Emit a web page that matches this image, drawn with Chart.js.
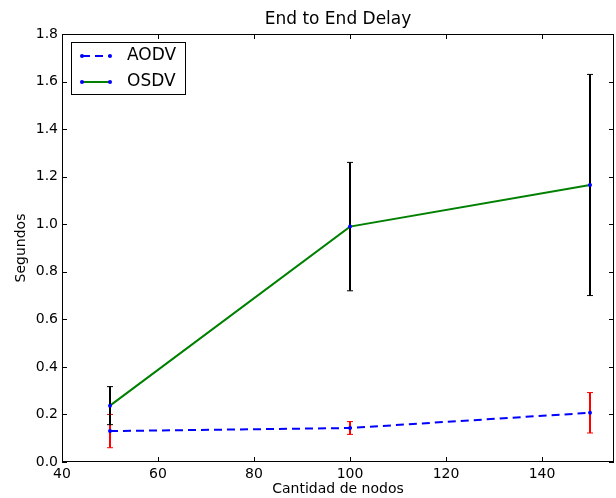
<!DOCTYPE html>
<html><head><meta charset="utf-8">
<script src="https://cdn.jsdelivr.net/npm/chart.js@4"></script>
<style>html,body{margin:0;padding:0;background:#fff;} #wrap{width:616px;height:498px;}</style>
</head><body><div id="wrap"><canvas id="c" width="616" height="498"></canvas></div>
<script>
const nodes = [50, 100, 150];
const seriesNames = ['AODV', 'OSDV'];
const aodv = [0.130, 0.143, 0.207];
const aodvErr = [0.070, 0.027, 0.085];
const osdv = [0.237, 0.990, 1.165];
const osdvErr = [0.080, 0.270, 0.465];
const xTickValues = [40, 60, 80, 100, 120, 140];
const yTickValues = [0.0, 0.2, 0.4, 0.6, 0.8, 1.0, 1.2, 1.4, 1.6, 1.8];

const FONT = '"DejaVu Sans", sans-serif';

const errorBars = {
  id: 'errorBars',
  beforeDatasetsDraw(chart) {
    const {ctx, scales: {x, y}} = chart;
    chart.data.datasets.forEach(ds => {
      if (!ds.errors) return;
      ctx.save();
      ctx.strokeStyle = ds.errorColor;
      ds.data.forEach((p, i) => {
        const px = x.getPixelForValue(p.x);
        const top = y.getPixelForValue(p.y + ds.errors[i]);
        const bot = y.getPixelForValue(p.y - ds.errors[i]);
        ctx.lineWidth = 2;
        ctx.beginPath(); ctx.moveTo(px, top); ctx.lineTo(px, bot); ctx.stroke();
        ctx.lineWidth = 1;
        ctx.beginPath();
        ctx.moveTo(px - 3, top); ctx.lineTo(px + 3, top);
        ctx.moveTo(px - 3, bot); ctx.lineTo(px + 3, bot);
        ctx.stroke();
      });
      ctx.restore();
    });
  }
};

const frameAndLegend = {
  id: 'frameAndLegend',
  afterDraw(chart) {
    const {ctx, chartArea: a, scales: {x, y}} = chart;
    ctx.save();
    ctx.strokeStyle = '#000';
    ctx.lineWidth = 1;
    // inward ticks on all sides
    ctx.beginPath();
    xTickValues.forEach(v => {
      const px = Math.round(x.getPixelForValue(v)) + 0.5;
      ctx.moveTo(px, a.bottom); ctx.lineTo(px, a.bottom - 5);
      ctx.moveTo(px, a.top); ctx.lineTo(px, a.top + 5);
    });
    yTickValues.forEach(v => {
      const py = Math.round(y.getPixelForValue(v)) + 0.5;
      ctx.moveTo(a.left, py); ctx.lineTo(a.left + 5, py);
      ctx.moveTo(a.right, py); ctx.lineTo(a.right - 5, py);
    });
    ctx.stroke();
    // frame
    ctx.strokeRect(Math.round(a.left) + 0.5, Math.round(a.top) + 0.5,
      Math.round(a.right - a.left) - 1, Math.round(a.bottom - a.top) - 1);
    // legend
    const lx = a.left + 9, ly = a.top + 8, lw = 114, lh = 52;
    ctx.fillStyle = '#fff';
    ctx.fillRect(lx, ly, lw, lh);
    ctx.strokeRect(lx + 0.5, ly + 0.5, lw, lh);
    chart.data.datasets.forEach((ds, i) => {
      const ry = ly + 14 + i * 26;
      const x0 = lx + 11, x1 = lx + 39;
      ctx.save();
      ctx.strokeStyle = ds.borderColor;
      ctx.lineWidth = ds.borderWidth;
      ctx.setLineDash(ds.borderDash || []);
      ctx.beginPath(); ctx.moveTo(x0, ry); ctx.lineTo(x1, ry); ctx.stroke();
      ctx.restore();
      ctx.fillStyle = ds.pointBackgroundColor;
      [x0, x1].forEach(px => { ctx.beginPath(); ctx.arc(px, ry, 2, 0, Math.PI * 2); ctx.fill(); });
      ctx.fillStyle = '#000';
      ctx.font = '17px ' + FONT;
      ctx.textBaseline = 'middle';
      ctx.textAlign = 'left';
      ctx.fillText(ds.label, lx + 56, ry);
    });
    ctx.restore();
  }
};

new Chart(document.getElementById('c'), {
  type: 'line',
  data: {
    datasets: [
      {
        label: seriesNames[0],
        data: nodes.map((n, i) => ({x: n, y: aodv[i]})),
        errors: aodvErr,
        errorColor: '#ff0000',
        borderColor: '#0000ff',
        borderWidth: 2,
        borderDash: [8, 5],
        pointRadius: 2,
        pointBackgroundColor: '#0000ff',
        pointBorderColor: '#0000ff',
        pointBorderWidth: 0,
        tension: 0,
        fill: false
      },
      {
        label: seriesNames[1],
        data: nodes.map((n, i) => ({x: n, y: osdv[i]})),
        errors: osdvErr,
        errorColor: '#000000',
        borderColor: '#008000',
        borderWidth: 2,
        pointRadius: 2,
        pointBackgroundColor: '#0000ff',
        pointBorderColor: '#0000ff',
        pointBorderWidth: 0,
        tension: 0,
        fill: false
      }
    ]
  },
  options: {
    responsive: false,
    animation: false,
    devicePixelRatio: 1,
    layout: {autoPadding: false, padding: {left: 0, right: 2, top: 0, bottom: 0}},
    plugins: {
      legend: {display: false},
      tooltip: {enabled: false},
      title: {
        display: true,
        fullSize: false,
        text: 'End to End Delay',
        color: '#000',
        font: {family: FONT, size: 17, weight: 'normal'},
        padding: {top: 9, bottom: 4.6}
      }
    },
    scales: {
      x: {
        type: 'linear',
        min: 40, max: 155,
        afterFit(s) { s.height = 36; s.paddingLeft = 0; s.paddingRight = 0; },
        afterBuildTicks(s) { s.ticks = xTickValues.map(v => ({value: v})); },
        grid: {display: false, drawTicks: false},
        border: {display: false},
        ticks: {color: '#000', font: {family: FONT, size: 14}, padding: 4, maxRotation: 0,
          callback: v => String(v)},
        title: {display: true, text: 'Cantidad de nodos', color: '#000',
          font: {family: FONT, size: 14}, padding: {top: 0, bottom: 0}}
      },
      y: {
        type: 'linear',
        min: 0, max: 1.8,
        afterFit(s) { s.width = 62; s.paddingTop = 0; s.paddingBottom = 0; },
        afterBuildTicks(s) { s.ticks = yTickValues.map(v => ({value: v})); },
        grid: {display: false, drawTicks: false},
        border: {display: false},
        ticks: {color: '#000', font: {family: FONT, size: 14}, padding: 4,
          callback: v => Number(v).toFixed(1)},
        title: {display: true, text: 'Segundos', color: '#000',
          font: {family: FONT, size: 14}, padding: {top: 13, bottom: 0}}
      }
    }
  },
  plugins: [errorBars, frameAndLegend]
});
</script>
</body></html>
